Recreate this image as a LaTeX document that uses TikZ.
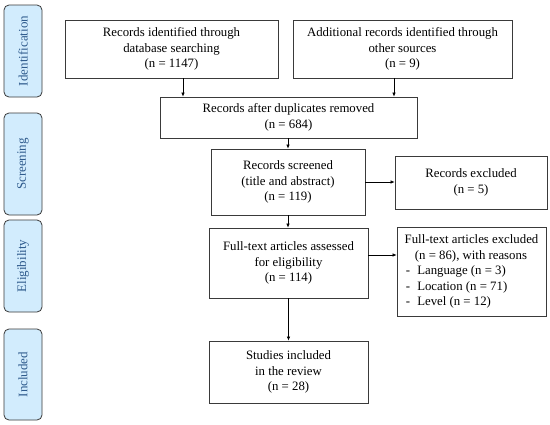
\documentclass[tikz,border=0pt]{standalone}
\usepackage{fontspec}
\setmainfont{Liberation Serif}
\usetikzlibrary{arrows.meta}
\definecolor{sidefill}{HTML}{D2ECFD}
\definecolor{sidetext}{HTML}{2E5A8C}
\definecolor{boxline}{HTML}{3A3A3A}
\begin{document}
\begin{tikzpicture}[x=1pt,y=-1pt,
  box/.style={draw=boxline, line width=0.8pt, fill=white, inner sep=2pt, align=center,
    font=\fontsize{12.8}{15.5}\selectfont},
  side/.style={draw=boxline, line width=0.8pt, fill=sidefill, rounded corners=5pt, rotate=90,
    text=sidetext, font=\fontsize{13}{14}\selectfont, inner sep=0pt},
  arr/.style={-{Latex[length=4pt,width=3.5pt]}, line width=0.6pt, draw=black}]
\useasboundingbox (0,0) rectangle (550,424);
\fill[white] (0,0) rectangle (550,424);
% side labels
\node[side, minimum width=92, minimum height=38] (sid) at (23,51) {Identification};
\node[side, minimum width=102, minimum height=38] (ssc) at (23,164) {Screening};
\node[side, minimum width=92, minimum height=38] (sel) at (23,266) {Eligibility};
\node[side, minimum width=91, minimum height=38] (sin) at (23,374.5) {Included};
% boxes
\node[box, minimum width=213, minimum height=58] (b1) at (171.5,49)
  {Records identified through\\database searching\\(n = 1147)};
\node[box, minimum width=219, minimum height=58] (b2) at (402.5,49)
  {Additional records identified through\\other sources\\(n = 9)};
\node[box, minimum width=257, minimum height=41] (b3) at (288.5,117.5)
  {Records after duplicates removed\\(n = 684)};
\node[box, minimum width=154, minimum height=66] (b4) at (288,182)
  {Records screened\\(title and abstract)\\(n = 119)};
\node[box, minimum width=152, minimum height=53] (b5) at (471,182.5)
  {Records excluded\\(n = 5)};
\node[box, minimum width=159, minimum height=70] (b6) at (288.5,263)
  {Full-text articles assessed\\for eligibility\\(n = 114)};
\node[box, minimum width=149, minimum height=89, align=left] (b7) at (471.5,271.5)
  {Full-text articles excluded\\
   \hspace*{0.8em}(n = 86), with reasons\\
   \hspace*{0.1em}-\hspace*{0.55em}Language (n = 3)\\
   \hspace*{0.1em}-\hspace*{0.55em}Location (n = 71)\\
   \hspace*{0.1em}-\hspace*{0.55em}Level (n = 12)};
\node[box, minimum width=159, minimum height=62] (b8) at (288.5,372)
  {Studies included\\in the review\\(n = 28)};
% arrow anchors
\coordinate (c1) at (183,0);
\coordinate (c2) at (394,0);
\coordinate (c6) at (0,255);
% connectors
\draw[arr] (b1.south -| c1) -- (b3.north -| c1);
\draw[arr] (b2.south -| c2) -- (b3.north -| c2);
\draw[arr] (b3.south -| b4) -- (b4.north);
\draw[arr] (b4.south) -- (b6.north -| b4);
\draw[arr] (b4.east) -- (b5.west |- b4.east);
\draw[arr] (b6.east |- c6) -- (b7.west |- c6);
\draw[arr] (b6.south) -- (b8.north);
\end{tikzpicture}
\end{document}
